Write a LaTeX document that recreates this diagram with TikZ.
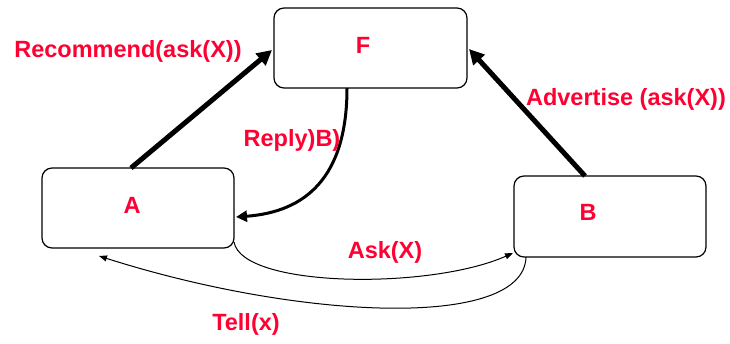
\documentclass[tikz,border=0pt]{standalone}
\usepackage{fontspec}
\setmainfont{Liberation Sans}
\usetikzlibrary{arrows.meta}
\definecolor{lblred}{RGB}{255,0,51}
\begin{document}
\begin{tikzpicture}[x=1pt,y=-1pt,
  box/.style={draw,line width=1.2pt,rounded corners=10pt,inner sep=0pt},
  lbl/.style={text=lblred,font=\bfseries\fontsize{23.5}{27}\selectfont,inner sep=0pt,anchor=center},
  heavy/.style={line width=5pt,-{Triangle[length=15pt,width=15pt]}},
  medium/.style={line width=3pt,-{Triangle[length=11pt,width=11pt]}},
  light/.style={line width=1pt,-{Triangle[length=8pt,width=6pt]}}]
\useasboundingbox (0,0) rectangle (730,343);
% boxes
\node[box,minimum width=193pt,minimum height=80pt] (F) at (370.5,48) {};
\node[box,minimum width=192pt,minimum height=80pt] (A) at (138,208) {};
\node[box,minimum width=192pt,minimum height=81pt] (B) at (610,216.5) {};
% box labels
\node[lbl] (Ft) at (363,45) {F};
\node[lbl] (At) at (132,205) {A};
\node[lbl] (Bt) at (588,212) {B};
% connector end points
\coordinate (Atop) at (131,168);
\coordinate (Fleft) at (272,50);
\coordinate (Btop) at (585,176);
\coordinate (Fright) at (469,49);
\coordinate (Fbot) at (347,88);
\coordinate (Aright) at (236,217);
\coordinate (Acorner) at (234,242);
\coordinate (Bin) at (513,253);
\coordinate (Bcorner) at (526,257);
\coordinate (Abelow) at (99,256);
% connectors
\draw[heavy] (Atop) -- (Fleft);
\draw[heavy] (Btop) -- (Fright);
\draw[medium] (Fbot) .. controls (347,178) and (305,212) .. (Aright);
\draw[light] (Acorner) .. controls (242,288) and (430,290) .. (Bin);
\draw[light] (Bcorner) .. controls (524,330) and (300,320) .. (Abelow);
% connector labels
\node[lbl] (Lrec) at (128,51) {Recommend(ask(X))};
\node[lbl] (Ladv) at (626,99) {Advertise (ask(X))};
\node[lbl] (Lrep) at (292,140) {Reply)B)};
\node[lbl] (Lask) at (385,252) {Ask(X)};
\node[lbl] (Ltell) at (246,324) {Tell(x)};
\end{tikzpicture}
\end{document}
